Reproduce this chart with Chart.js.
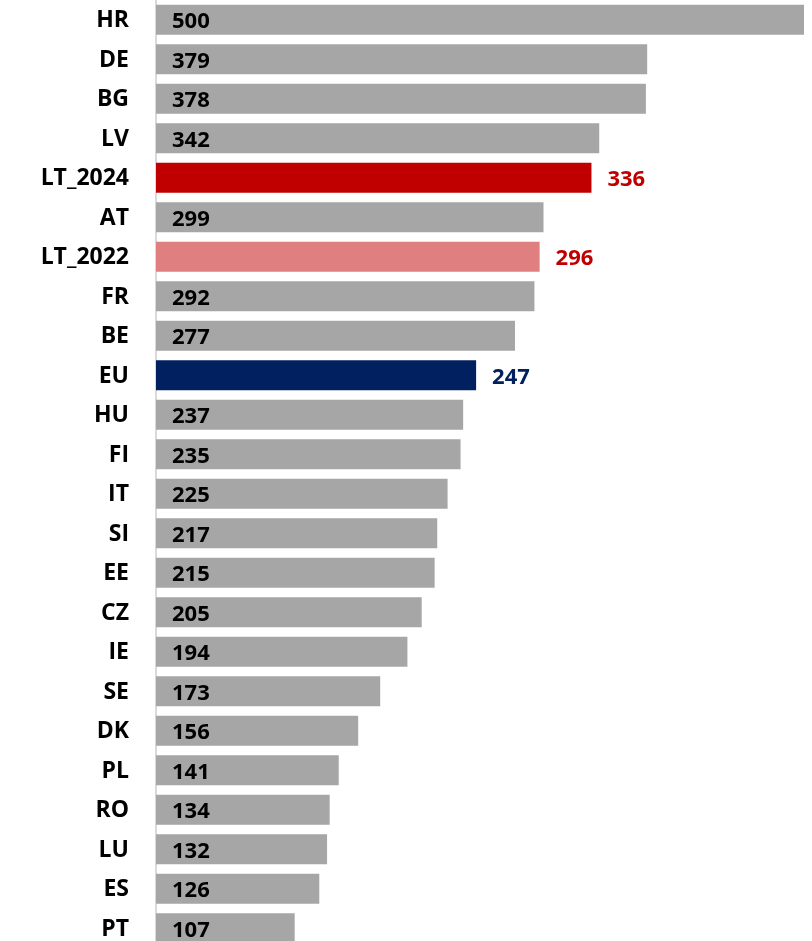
<!DOCTYPE html>
<html>
<head>
<meta charset="utf-8">
<script src="https://cdn.jsdelivr.net/npm/chart.js@4"></script>
<style>
html,body{margin:0;padding:0;background:#fff;overflow:hidden;}
#wrap{width:812px;height:948px;position:relative;}
</style>
</head>
<body>
<div id="wrap"><canvas id="c"></canvas></div>
<script>
const categories = ["HR","DE","BG","LV","LT_2024","AT","LT_2022","FR","BE","EU","HU","FI","IT","SI","EE","CZ","IE","SE","DK","PL","RO","LU","ES","PT"];
const values = [500,379,378,342,336,299,296,292,277,247,237,235,225,217,215,205,194,173,156,141,134,132,126,107];
const xMax = 500;

const GREY = "#A6A6A6";
const special = {
  "LT_2024": {bar: "#C00000", text: "#C00000"},
  "LT_2022": {bar: "#DF7F7F", text: "#C00000"},
  "EU": {bar: "#002060", text: "#002060"}
};
const barColors = categories.map(c => special[c] ? special[c].bar : GREY);
const FONT = "'Open Sans'";
const TICK_SIZE = 23;
const VAL_SIZE = 22;

const labelPlugin = {
  id: 'valueLabels',
  afterDatasetsDraw(chart) {
    const ctx = chart.ctx;
    const meta = chart.getDatasetMeta(0);
    ctx.save();
    ctx.font = "bold " + VAL_SIZE + "px " + FONT;
    ctx.textBaseline = "middle";
    ctx.textAlign = "left";
    meta.data.forEach((el, i) => {
      const cat = categories[i];
      const txt = String(values[i]);
      if (special[cat]) {
        ctx.fillStyle = special[cat].text;
        ctx.fillText(txt, el.x + 16, el.y + 2);
      } else {
        ctx.fillStyle = "#000000";
        ctx.fillText(txt, el.base + 16, el.y + 2);
      }
    });
    ctx.restore();
  }
};

new Chart(document.getElementById('c'), {
  type: 'bar',
  data: {
    labels: categories,
    datasets: [{
      data: values,
      backgroundColor: barColors,
      borderWidth: 0,
      barPercentage: 0.76,
      categoryPercentage: 1.0
    }]
  },
  options: {
    indexAxis: 'y',
    responsive: true,
    maintainAspectRatio: false,
    animation: false,
    layout: {padding: {left: 0, right: 8, top: 0, bottom: 0}},
    plugins: {legend: {display: false}, tooltip: {enabled: false}},
    scales: {
      x: {
        display: false,
        min: 0,
        max: xMax
      },
      y: {
        afterFit(scale) { scale.width = 156; scale.paddingTop = 0; scale.paddingBottom = 0; },
        grid: {display: false, drawTicks: false},
        border: {display: true, color: "#D9D9D9", width: 2},
        ticks: {
          color: "#000000",
          padding: 27,
          labelOffset: 1,
          font: {family: FONT, size: TICK_SIZE, weight: 'bold'}
        }
      }
    }
  },
  plugins: [labelPlugin]
});
</script>
</body>
</html>
